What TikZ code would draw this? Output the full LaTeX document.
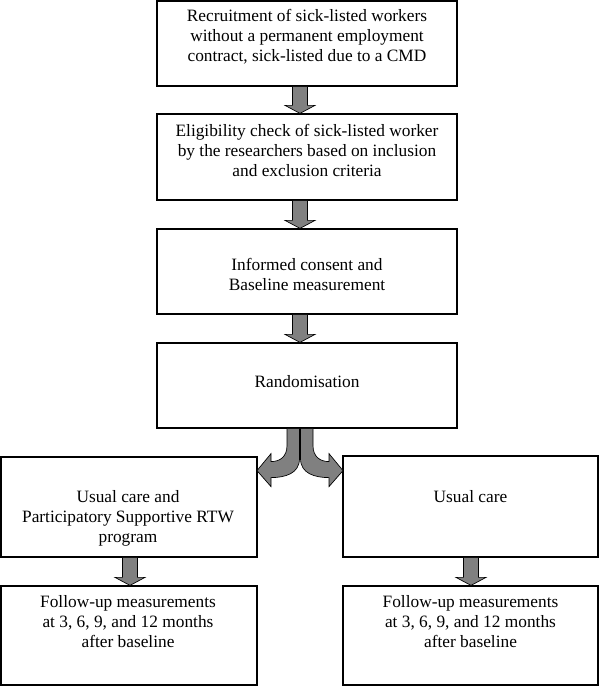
\documentclass[tikz,border=0pt]{standalone}
\usepackage{fontspec}
\setmainfont{Liberation Serif}
\usetikzlibrary{calc}
\tikzset{
  boxnode/.style={draw=black, line width=0.9pt, inner sep=0pt, fill=white},
  topbox/.style={boxnode, minimum width=225pt, minimum height=63.75pt},
  lowbox/.style={boxnode, minimum width=192pt, minimum height=75pt},
  txt/.style={anchor=north, inner sep=0pt, align=center, font=\fontsize{13}{15}\selectfont},
  arrowfill/.style={draw=black, line width=0.5pt, fill=black!50, line join=miter},
}
\newcommand\fatdown[2]{%
  \draw[arrowfill] let \p1=(#1), \p2=(#2) in
    (\x1-5.625pt,\y1) -- (\x1+5.625pt,\y1) -- (\x1+5.625pt,\y2+6pt)
    -- (\x1+11.25pt,\y2+6pt) -- (\x1,\y2) -- (\x1-11.25pt,\y2+6pt)
    -- (\x1-5.625pt,\y2+6pt) -- cycle;}
\begin{document}
\begin{tikzpicture}[x=0.75pt, y=-0.75pt]
\useasboundingbox (0,0) rectangle (600,686);

% boxes
\node[topbox] (b1) at (307,43.5) {};
\node[topbox, minimum height=64.5pt] (b2) at (307,157) {};
\node[topbox] (b3) at (307,271.5) {};
\node[topbox] (b4) at (307,385.5) {};
\node[lowbox] (l) at (129,507) {};
\node[lowbox, minimum width=191.25pt, minimum height=75.75pt] (r) at (470.5,506.5) {};
\node[lowbox, minimum height=74.25pt] (fl) at (129,635.5) {};
\node[lowbox, minimum width=191.25pt, minimum height=74.25pt] (fr) at (470.5,635.5) {};

% texts
\node[txt] (t1) at ($(b1.north)+(0,7)$) {\strut Recruitment of sick-listed workers\\without a permanent employment\\contract, sick-listed due to a CMD\strut};
\node[txt] (t2) at ($(b2.north)+(0,9)$) {\strut Eligibility check of sick-listed worker\\by the researchers based on inclusion\\and exclusion criteria\strut};
\node[txt] (t3) at ($(b3.north)+(0,28)$) {\strut Informed consent and\\Baseline measurement\strut};
\node[txt] (t4) at ($(b4.north)+(0,31)$) {\strut Randomisation\strut};
\node[txt] (tl) at ($(l.north)+(-1,32)$) {\strut Usual care and\\Participatory Supportive RTW\\program\strut};
\node[txt] (tr) at ($(r.north)+(0,33)$) {\strut Usual care\strut};
\node[txt] (tfl) at ($(fl.north)+(-1,8)$) {\strut Follow-up measurements\\at 3, 6, 9, and 12 months\\after baseline\strut};
\node[txt] (tfr) at ($(fr.north)+(0,8)$) {\strut Follow-up measurements\\at 3, 6, 9, and 12 months\\after baseline\strut};

% straight block arrows
\coordinate (a1s) at ($(b1.south)+(-7,0)$);
\coordinate (a1e) at ($(b2.north)+(-7,0)$);
\coordinate (a2s) at ($(b2.south)+(-7,0)$);
\coordinate (a2e) at ($(b3.north)+(-7,0)$);
\coordinate (a3s) at ($(b3.south)+(-7,0)$);
\coordinate (a3e) at ($(b4.north)+(-7,0)$);
\coordinate (a4s) at ($(l.south)+(1,0)$);
\coordinate (a4e) at ($(fl.north)+(1,0)$);
\coordinate (a5s) at ($(r.south)+(0.5,0)$);
\coordinate (a5e) at ($(fr.north)+(0.5,0)$);
\fatdown{a1s}{a1e}
\fatdown{a2s}{a2e}
\fatdown{a3s}{a3e}
\fatdown{a4s}{a4e}
\fatdown{a5s}{a5e}

% split arrow
\coordinate (split) at ($(b4.south)+(-7,0)$);
\begin{scope}[shift={(split)}]
  \draw[arrowfill] (-13,0) -- (-0.5,0) -- (-0.5,30)
    .. controls (-0.5,45) and (-15,49) .. (-29,49)
    -- (-29,58) -- (-43,42) -- (-29,25) -- (-29,33)
    .. controls (-20,33) and (-13,28) .. (-13,17) -- cycle;
  \draw[arrowfill] (13,0) -- (0.5,0) -- (0.5,30)
    .. controls (0.5,45) and (15,49) .. (29,49)
    -- (29,58) -- (43,42) -- (29,25) -- (29,33)
    .. controls (20,33) and (13,28) .. (13,17) -- cycle;
\end{scope}
\end{tikzpicture}
\end{document}
